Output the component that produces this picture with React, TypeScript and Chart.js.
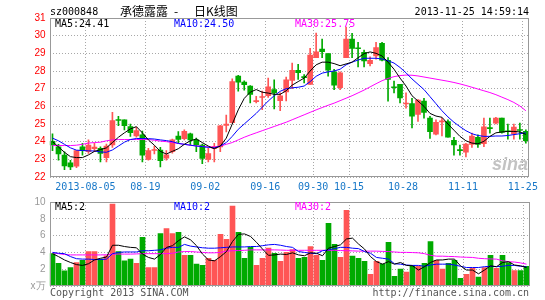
import React, { useEffect, useRef } from 'react';
import { Chart, registerables } from 'chart.js';

Chart.register(...registerables);

// ---- data ----
const dates = [
  '07-26', '07-29', '07-30', '07-31', '08-01', '08-02', '08-05', '08-06', '08-07', '08-08',
  '08-09', '08-12', '08-13', '08-14', '08-15', '08-16', '08-19', '08-20', '08-21', '08-22',
  '08-23', '08-26', '08-27', '08-28', '08-29', '08-30', '09-02', '09-03', '09-04', '09-05',
  '09-06', '09-09', '09-10', '09-11', '09-12', '09-13', '09-16', '09-17', '09-18', '09-23',
  '09-24', '09-25', '09-26', '09-27', '09-30', '10-08', '10-09', '10-10', '10-11', '10-14',
  '10-15', '10-16', '10-17', '10-18', '10-21', '10-22', '10-23', '10-24', '10-25', '10-28',
  '10-29', '10-30', '10-31', '11-01', '11-04', '11-05', '11-06', '11-07', '11-08', '11-11',
  '11-12', '11-13', '11-14', '11-15', '11-18', '11-19', '11-20', '11-21', '11-22', '11-25',
];

const labeledDates = ['08-05', '08-19', '09-02', '09-16', '09-30', '10-15', '10-28', '11-11', '11-25'];
const tickTexts = ['2013-08-05', '08-19', '09-02', '09-16', '09-30', '10-15', '10-28', '11-11', '11-25'];

const open = [
  24.02, 23.71, 23.24, 22.80, 22.61, 23.71, 23.43, 23.60, 23.62, 23.10,
  23.81, 25.22, 25.24, 24.86, 24.32, 24.38, 22.99, 23.50, 23.52, 23.07,
  23.43, 24.32, 24.17, 24.44, 24.10, 23.81, 22.99, 23.62, 23.70, 24.92,
  25.07, 27.71, 27.37, 27.14, 26.27, 26.50, 26.60, 26.95, 26.32, 26.82,
  27.47, 28.04, 27.68, 27.24, 28.76, 29.24, 28.99, 27.96, 27.05, 28.76,
  29.81, 29.30, 29.05, 28.42, 28.86, 29.56, 28.61, 27.10, 27.24, 26.13,
  26.15, 25.54, 26.30, 25.33, 24.43, 25.12, 25.14, 24.08, 23.52, 23.40,
  23.84, 24.25, 23.88, 24.78, 25.05, 25.33, 24.62, 24.44, 24.66, 24.59,
];
const high = [
  24.44, 23.85, 23.43, 22.95, 23.49, 23.90, 24.10, 23.90, 23.71, 23.87,
  25.66, 25.43, 25.24, 25.00, 24.82, 24.60, 23.62, 23.75, 23.68, 23.50,
  24.15, 24.57, 24.67, 24.48, 24.20, 23.87, 23.62, 23.90, 24.93, 25.50,
  27.55, 27.75, 27.45, 27.18, 26.57, 26.86, 27.60, 27.50, 26.76, 27.65,
  28.45, 28.38, 27.80, 29.28, 30.15, 29.80, 28.99, 28.10, 27.95, 30.48,
  30.13, 29.62, 29.18, 28.80, 29.62, 29.62, 28.76, 27.43, 27.24, 26.76,
  26.45, 26.38, 26.45, 25.43, 25.24, 25.33, 25.24, 24.25, 23.81, 23.90,
  24.48, 24.38, 25.33, 25.33, 25.38, 25.33, 25.00, 25.00, 25.05, 24.67,
];
const low = [
  23.49, 22.95, 22.42, 22.42, 22.53, 23.24, 23.33, 23.43, 22.86, 22.86,
  23.68, 24.90, 24.67, 24.29, 24.25, 22.86, 22.95, 23.30, 22.57, 22.95,
  23.35, 23.95, 24.10, 23.81, 23.43, 22.76, 22.86, 22.86, 23.43, 24.55,
  25.05, 26.86, 26.91, 26.19, 26.19, 25.81, 26.50, 25.85, 25.75, 26.30,
  27.00, 27.52, 27.33, 27.24, 28.76, 28.76, 27.71, 26.95, 26.95, 28.76,
  28.76, 28.23, 28.23, 28.29, 28.67, 28.57, 26.29, 26.76, 26.19, 25.90,
  24.78, 25.14, 25.33, 24.19, 24.38, 24.33, 24.25, 23.24, 23.24, 23.14,
  23.67, 23.67, 23.71, 24.48, 25.00, 24.48, 24.14, 24.14, 24.14, 23.92,
];
const close = [
  23.81, 23.30, 22.63, 22.57, 23.49, 23.49, 23.81, 23.70, 23.33, 23.75,
  25.20, 25.20, 24.90, 24.51, 24.63, 23.24, 23.49, 23.52, 22.93, 23.26,
  24.10, 24.13, 24.59, 24.10, 23.81, 23.05, 23.33, 23.72, 24.90, 25.00,
  27.40, 27.37, 27.22, 26.67, 26.30, 26.55, 27.10, 26.76, 26.60, 27.50,
  28.04, 27.90, 27.62, 28.90, 29.09, 29.10, 28.04, 27.20, 27.90, 29.81,
  29.28, 29.26, 28.57, 28.61, 29.33, 28.61, 27.52, 27.05, 26.48, 26.17,
  25.45, 26.35, 25.65, 24.57, 25.09, 25.14, 24.25, 23.81, 23.49, 23.87,
  24.32, 23.84, 24.84, 24.74, 25.33, 24.52, 24.56, 24.82, 24.63, 24.06,
];

const ma5 = [
  24.0, 23.7, 23.4, 23.15, 23.1, 23.1, 23.25, 23.45, 23.55, 23.65,
  23.95, 24.25, 24.5, 24.72, 24.85, 24.5, 24.1, 23.8, 23.45, 23.3,
  23.45, 23.6, 23.85, 24.05, 24.15, 23.95, 23.75, 23.6, 23.75, 24.2,
  25.0, 25.8, 26.45, 26.8, 26.95, 26.8, 26.75, 26.68, 26.68, 26.88,
  27.2, 27.4, 27.6, 28.0, 28.35, 28.5, 28.5, 28.42, 28.3, 28.4,
  28.5, 28.75, 28.98, 29.08, 29.0, 28.85, 28.5, 28.1, 27.6, 27.15,
  26.6, 26.3, 26.0, 25.6, 25.45, 25.38, 25.0, 24.65, 24.3, 24.05,
  23.92, 23.88, 24.02, 24.3, 24.5, 24.55, 24.58, 24.58, 24.55, 24.41,
];
const ma10 = [
  24.2, 24.05, 23.85, 23.65, 23.52, 23.5, 23.48, 23.47, 23.42, 23.4,
  23.53, 23.75, 23.97, 24.12, 24.18, 24.18, 24.17, 24.15, 24.1, 24.06,
  24.0, 23.9, 23.85, 23.8, 23.75, 23.72, 23.68, 23.65, 23.75, 23.95,
  24.3, 24.7, 25.0, 25.3, 25.6, 25.95, 26.3, 26.6, 26.85, 27.0,
  27.05, 27.08, 27.15, 27.4, 27.7, 27.88, 27.95, 28.0, 28.1, 28.35,
  28.5, 28.62, 28.72, 28.72, 28.72, 28.68, 28.58, 28.45, 28.2, 27.9,
  27.55, 27.25, 26.95, 26.55, 26.15, 25.75, 25.4, 25.1, 24.85, 24.62,
  24.45, 24.35, 24.3, 24.3, 24.32, 24.32, 24.35, 24.4, 24.45, 24.5,
];
const ma30 = [
  23.78, 23.78, 23.78, 23.78, 23.8, 23.85, 23.92, 23.95, 23.97, 24.05,
  24.1, 24.12, 24.12, 24.12, 24.12, 24.12, 24.12, 24.08, 24.03, 24.0,
  23.95, 23.9, 23.85, 23.8, 23.76, 23.73, 23.7, 23.7, 23.75, 23.85,
  23.95, 24.1, 24.25, 24.38, 24.5, 24.62, 24.74, 24.86, 24.98, 25.1,
  25.24, 25.38, 25.52, 25.66, 25.8, 25.93, 26.06, 26.18, 26.32, 26.46,
  26.6, 26.76, 26.92, 27.1, 27.28, 27.45, 27.58, 27.68, 27.74, 27.77,
  27.76, 27.72, 27.66, 27.6, 27.54, 27.48, 27.42, 27.35, 27.27, 27.18,
  27.08, 26.98, 26.88, 26.78, 26.66, 26.52, 26.38, 26.22, 26.02, 25.75,
];

const volume = [
  3.85, 2.7, 1.8, 2.2, 2.8, 3.05, 4.1, 4.1, 3.2, 3.6,
  9.75, 4.1, 3.0, 3.2, 2.7, 5.8, 2.2, 2.2, 6.25, 6.85,
  6.25, 6.4, 3.65, 3.65, 2.6, 2.45, 3.3, 3.05, 6.15, 5.55,
  9.5, 6.4, 3.3, 4.6, 2.45, 3.3, 4.5, 3.9, 2.95, 4.0,
  4.35, 3.3, 3.4, 4.7, 3.65, 3.05, 7.45, 4.95, 3.4, 9.0,
  3.55, 3.3, 2.95, 1.4, 2.95, 2.6, 5.2, 1.15, 2.0, 1.65,
  2.45, 2.35, 2.7, 5.3, 3.05, 2.0, 2.7, 3.05, 0.9, 1.4,
  2.1, 1.05, 2.2, 3.65, 2.1, 3.65, 2.8, 1.85, 1.85, 2.35,
];
const volMa5 = [
  3.85, 3.5, 3.1, 2.8, 2.55, 2.45, 2.65, 3.1, 3.3, 3.45,
  4.85, 4.85, 4.7, 4.6, 4.55, 3.8, 3.4, 3.2, 3.75, 4.6,
  4.8, 5.4, 5.85, 5.5, 4.8, 3.8, 3.1, 3.0, 3.5, 4.1,
  5.3, 6.15, 6.2, 5.9, 5.2, 4.4, 3.65, 3.7, 3.8, 3.75,
  3.95, 3.7, 3.6, 3.95, 3.9, 3.6, 4.5, 4.7, 4.9, 5.6,
  5.7, 5.0, 4.4, 3.5, 2.9, 2.6, 2.9, 2.6, 2.8, 2.45,
  2.4, 1.9, 2.3, 2.8, 3.1, 3.1, 3.2, 3.2, 2.4, 1.9,
  1.9, 1.45, 1.9, 2.4, 2.3, 2.8, 2.9, 2.5, 2.4, 2.2,
];
const volMa10 = [
  4.0, 3.9, 3.85, 3.5, 3.25, 3.2, 3.2, 3.15, 3.15, 3.2,
  3.85, 4.0, 4.05, 4.05, 4.05, 4.2, 4.2, 4.25, 4.3, 4.5,
  4.6, 4.6, 4.95, 4.75, 4.65, 4.55, 4.5, 4.5, 4.55, 4.6,
  4.65, 4.65, 4.65, 4.7, 4.7, 4.8, 4.9, 4.95, 4.85, 4.7,
  4.6, 4.1, 4.0, 3.9, 3.85, 4.2, 4.3, 4.45, 4.6, 4.6,
  4.5, 4.45, 4.1, 3.9, 3.4, 3.3, 3.2, 2.65, 2.6, 2.5,
  2.45, 2.45, 2.35, 2.5, 2.6, 2.6, 2.6, 2.5, 2.35, 2.2,
  2.2, 2.2, 2.3, 2.35, 2.3, 2.35, 2.45, 2.45, 2.35, 2.3,
];
const volMa30 = [
  3.95, 3.85, 3.75, 3.7, 3.7, 3.7, 3.7, 3.7, 3.7, 3.72,
  3.8, 3.8, 3.8, 3.8, 3.82, 3.85, 3.85, 3.85, 3.85, 3.85,
  3.9, 4.05, 4.1, 4.1, 4.05, 4.0, 3.95, 3.95, 4.0, 4.15,
  4.2, 4.22, 4.25, 4.3, 4.3, 4.3, 4.3, 4.3, 4.28, 4.25,
  4.25, 4.25, 4.25, 4.25, 4.25, 4.25, 4.25, 4.25, 4.22, 4.2,
  4.18, 4.15, 4.15, 4.15, 4.15, 4.12, 4.1, 4.05, 4.0, 4.0,
  3.98, 3.95, 3.85, 3.65, 3.55, 3.55, 3.52, 3.5, 3.45, 3.42,
  3.4, 3.3, 3.25, 3.22, 3.2, 3.0, 2.9, 2.85, 2.75, 2.6,
];

// ---- styles ----
const RED = '#ff5555';
const GREEN = '#00aa00';
const BLUE = '#0000ff';
const MAGENTA = '#ff00ff';
const GRID = '#a8a8a8';
const FRAME = '#999999';
const DATE_BLUE = '#1878c8';
const MONO = 'DejaVu Sans Mono';
const SANS = 'Liberation Sans';

const last = dates.length - 1;

export default function App() {
  const topRef = useRef<HTMLCanvasElement>(null);
  const botRef = useRef<HTMLCanvasElement>(null);

  useEffect(() => {
    const up = (i: number) => close[i] >= open[i];
    const barColor = (ctx: any) => (up(ctx.dataIndex) ? RED : GREEN);
    const xGridColor = (ctx: any) =>
      labeledDates.includes(dates[ctx.index]) ? GRID : 'rgba(0,0,0,0)';
    const tickText = (i: number) => {
      const k = labeledDates.indexOf(dates[i]);
      return k >= 0 ? tickTexts[k] : '';
    };

    const framePlugin = {
      id: 'frame',
      afterDraw(chart: any) {
        const { ctx, chartArea: a } = chart;
        const l = Math.round(a.left);
        const t = Math.round(a.top);
        const r = Math.round(a.right);
        const b = Math.round(a.bottom);
        ctx.save();
        ctx.strokeStyle = FRAME;
        ctx.lineWidth = 1;
        ctx.strokeRect(l + 0.5, t + 0.5, r - l - 1, b - t - 1);
        ctx.restore();
      },
    };

    const lineDs = (data: number[], color: string) => ({
      type: 'line' as const,
      data,
      borderColor: color,
      borderWidth: 1,
      pointRadius: 0,
      tension: 0,
      fill: false,
      order: 0,
    });

    const topText = {
      id: 'topText',
      afterDraw(chart: any) {
        const ctx = chart.ctx;
        ctx.save();
        ctx.textBaseline = 'alphabetic';
        ctx.font = `10px "${MONO}"`;
        ctx.fillStyle = '#000';
        ctx.textAlign = 'left';
        ctx.fillText('sz000848', 50, 15);
        ctx.textAlign = 'right';
        ctx.fillText('2013-11-25 14:59:14', 529, 15);
        ctx.textAlign = 'left';
        ctx.font = '12px "Noto Sans CJK SC"';
        ctx.fillText('承德露露', 120, 16);
        ctx.fillText('-', 174, 16);
        ctx.fillText('日K线图', 194, 16);
        ctx.font = `10px "${MONO}"`;
        ctx.fillStyle = '#000';
        ctx.fillText(`MA5:${ma5[last].toFixed(2)}`, 55, 27);
        ctx.fillStyle = BLUE;
        ctx.fillText(`MA10:${ma10[last].toFixed(2)}`, 174, 27);
        ctx.fillStyle = MAGENTA;
        ctx.fillText(`MA30:${ma30[last].toFixed(2)}`, 295, 27);
        ctx.font = `italic bold 18px "${SANS}"`;
        ctx.fillStyle = 'rgba(175,175,175,0.75)';
        ctx.fillText('sina', 492, 170);
        ctx.restore();
      },
    };

    const botText = {
      id: 'botText',
      afterDraw(chart: any) {
        const ctx = chart.ctx;
        ctx.save();
        ctx.textBaseline = 'alphabetic';
        ctx.font = `10px "${MONO}"`;
        ctx.textAlign = 'left';
        ctx.fillStyle = '#000';
        ctx.fillText(`MA5:${Math.floor(volMa5[last])}`, 55, 18);
        ctx.fillStyle = BLUE;
        ctx.fillText(`MA10:${Math.floor(volMa10[last])}`, 174, 18);
        ctx.fillStyle = MAGENTA;
        ctx.fillText(`MA30:${Math.floor(volMa30[last])}`, 295, 18);
        ctx.fillStyle = '#555';
        ctx.fillText('Copyright 2013 SINA.COM', 50, 104);
        ctx.textAlign = 'right';
        ctx.fillText('http://finance.sina.com.cn', 529, 104);
        ctx.restore();
      },
    };

    const bodies = dates.map((_, i) => [Math.min(open[i], close[i]), Math.max(open[i], close[i])]);
    const wicks = dates.map((_, i) => [low[i], high[i]]);

    const xScale = (showTicks: boolean, height: number) => ({
      type: 'category' as const,
      offset: true,
      grid: { offset: true, color: xGridColor, drawTicks: false, lineWidth: 1 },
      border: { display: false, dash: [1, 2] },
      ticks: {
        display: showTicks,
        autoSkip: false,
        maxRotation: 0,
        minRotation: 0,
        padding: 4,
        labelOffset: -3,
        color: DATE_BLUE,
        font: { family: MONO, size: 10 },
        callback: (_v: any, i: number) => tickText(i),
      },
      afterFit: (s: any) => {
        s.height = height;
      },
    });

    const topChart = new Chart(topRef.current as HTMLCanvasElement, {
      type: 'bar',
      data: {
        labels: dates,
        datasets: [
          lineDs(ma5, '#000000'),
          lineDs(ma10, BLUE),
          lineDs(ma30, MAGENTA),
          {
            type: 'bar',
            data: bodies as any,
            backgroundColor: barColor,
            borderWidth: 0,
            barThickness: 5,
            minBarLength: 1,
            grouped: false,
            order: 1,
          } as any,
          {
            type: 'bar',
            data: wicks as any,
            backgroundColor: barColor,
            borderWidth: 0,
            barThickness: 1,
            minBarLength: 1,
            grouped: false,
            order: 2,
          } as any,
        ],
      },
      options: {
        responsive: false,
        animation: false,
        events: [],
        layout: { padding: { left: 0, right: 15.5, top: 18, bottom: 0 } },
        plugins: { legend: { display: false }, tooltip: { enabled: false } },
        scales: {
          x: xScale(true, 15) as any,
          y: {
            min: 22,
            max: 31,
            ticks: { stepSize: 1, color: '#ff0000', padding: 4, font: { family: SANS, size: 10 } },
            grid: { color: GRID, drawTicks: false },
            border: { display: false, dash: [1, 2] },
            afterFit: (s: any) => {
              s.width = 49.5;
            },
          } as any,
        },
      },
      plugins: [framePlugin, topText],
    });

    const botChart = new Chart(botRef.current as HTMLCanvasElement, {
      type: 'bar',
      data: {
        labels: dates,
        datasets: [
          lineDs(volMa5, '#000000'),
          lineDs(volMa10, BLUE),
          lineDs(volMa30, MAGENTA),
          {
            type: 'bar',
            data: volume,
            backgroundColor: barColor,
            borderWidth: 0,
            barThickness: 5,
            grouped: false,
            order: 1,
          } as any,
        ],
      },
      options: {
        responsive: false,
        animation: false,
        events: [],
        layout: { padding: { left: 0, right: 15.5, top: 10, bottom: 0 } },
        plugins: { legend: { display: false }, tooltip: { enabled: false } },
        scales: {
          x: xScale(false, 14) as any,
          y: {
            min: 0,
            max: 10,
            ticks: {
              stepSize: 2,
              color: '#999999',
              padding: 4,
              font: { family: SANS, size: 10 },
              callback: (v: any) => (Number(v) === 0 ? 'x万' : String(v)),
            },
            grid: { color: GRID, drawTicks: false },
            border: { display: false, dash: [1, 2] },
            afterFit: (s: any) => {
              s.width = 49.5;
            },
          } as any,
        },
      },
      plugins: [framePlugin, botText],
    });

    return () => {
      topChart.destroy();
      botChart.destroy();
    };
  }, []);

  return (
    <div style={{ position: 'absolute', left: 0, top: 0, width: 545, height: 300, background: '#ffffff' }}>
      <canvas ref={topRef} width={545} height={192} style={{ position: 'absolute', left: 0, top: 0 }} />
      <canvas ref={botRef} width={545} height={108} style={{ position: 'absolute', left: 0, top: 192 }} />
    </div>
  );
}
